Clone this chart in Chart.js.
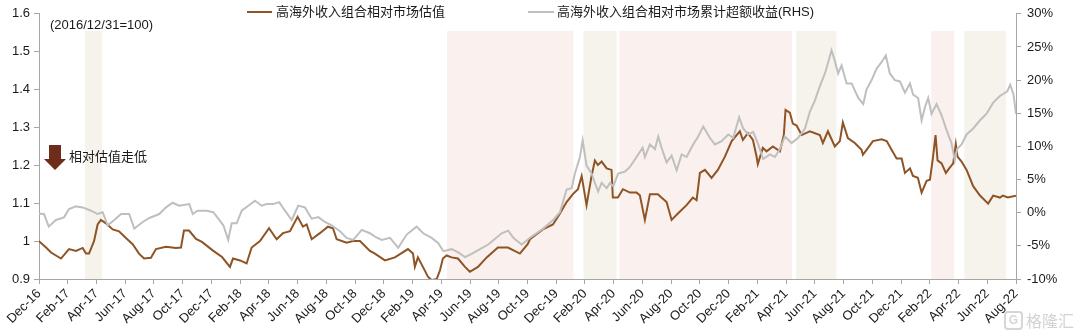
<!DOCTYPE html>
<html>
<head>
<meta charset="utf-8">
<script src="https://cdn.jsdelivr.net/npm/chart.js@4"></script>
<style>
  body { margin: 0; background: #fff; }
  #wrap { position: relative; width: 1080px; height: 333px; font-family: "Liberation Sans", Arial, "Noto Sans CJK SC", sans-serif; color: #1a1a1a; }
  #wrap canvas { position: absolute; left: 0; top: 0; }
  .lbl { position: absolute; font-size: 13px; line-height: 16px; white-space: nowrap; font-family: "Liberation Sans", Arial, "Noto Sans CJK SC", sans-serif; }
  .swatch { position: absolute; height: 2px; }
  .mark { position: absolute; color: #d2d2d2; font-size: 16px; line-height: 20px; white-space: nowrap; font-family: "Noto Sans CJK SC", sans-serif; }
  .logo { position: absolute; width: 15px; height: 15px; border: 2px solid #d6d6d6; border-radius: 4px; color: #d6d6d6; font: bold 12px/15px "Liberation Sans", Arial, sans-serif; text-align: center; }
</style>
</head>
<body>
<div id="wrap">
  <canvas id="valChart" width="1080" height="333"></canvas>

  <div class="swatch" style="left:247px; top:11px; width:25px; background:#8e5425;"></div>
  <div class="lbl" style="left:276px; top:4px;">高海外收入组合相对市场估值</div>
  <div class="swatch" style="left:528px; top:11px; width:26px; background:#bfbfbf;"></div>
  <div class="lbl" style="left:557px; top:4px;">高海外收入组合相对市场累计超额收益(RHS)</div>

  <div class="lbl" style="left:50px; top:17px;">(2016/12/31=100)</div>

  <svg style="position:absolute; left:44px; top:145px;" width="22" height="26">
    <polygon points="5,0 17,0 17,14 22,14 11,25 0,14 5,14" fill="#6e2c1b"/>
  </svg>
  <div class="lbl" style="left:69px; top:149px;">相对估值走低</div>

  <div class="logo" style="left:1004px; top:311px;">G</div>
  <div class="mark" style="left:1026px; top:310px;">格隆汇</div>
</div>

<script>
// months counted from 2016/12/31
const tickLabels = [
  'Dec-16', 'Feb-17', 'Apr-17', 'Jun-17', 'Aug-17', 'Oct-17', 'Dec-17', 'Feb-18', 'Apr-18',
  'Jun-18', 'Aug-18', 'Oct-18', 'Dec-18', 'Feb-19', 'Apr-19', 'Jun-19', 'Aug-19', 'Oct-19',
  'Dec-19', 'Feb-20', 'Apr-20', 'Jun-20', 'Aug-20', 'Oct-20', 'Dec-20', 'Feb-21', 'Apr-21',
  'Jun-21', 'Aug-21', 'Oct-21', 'Dec-21', 'Feb-22', 'Apr-22', 'Jun-22', 'Aug-22'
];

// relative valuation (left axis)
const valuationMonths = [
  0, 0.49, 0.84, 1.53, 2.09, 2.57, 3.04, 3.27, 3.48, 3.83, 4.08, 4.31, 4.66, 5.13, 5.57, 6.05,
  6.52, 6.96, 7.31, 7.79, 8.14, 8.84, 9.53, 9.88, 10.09, 10.44, 10.93, 11.34, 12.11, 12.74, 13.29,
  13.5, 13.99, 14.45, 14.8, 15.38, 16.01, 16.54, 16.98, 17.47, 18.0, 18.37, 18.63, 18.98, 19.55,
  20.11, 20.46, 20.72, 21.41, 21.85, 22.34, 23.03, 23.38, 24.08, 24.77, 25.68, 26.03, 26.16, 26.37,
  26.72, 27.07, 27.33, 27.68, 27.91, 28.11, 28.37, 28.72, 29.16, 29.65, 29.99, 30.55, 31.16, 31.94,
  32.64, 33.47, 34.01, 34.17, 35.07, 35.77, 36.26, 36.72, 37.16, 37.51, 37.77, 38.11, 38.46, 38.69,
  38.9, 39.16, 39.51, 39.85, 39.94, 40.29, 40.64, 41.13, 41.59, 41.82, 42.17, 42.52, 43.07, 43.68,
  44.03, 44.47, 45.07, 45.51, 45.77, 46.0, 46.35, 46.81, 47.25, 47.74, 48.21, 48.78, 48.99, 49.34,
  49.69, 49.94, 50.03, 50.38, 50.64, 51.08, 51.57, 51.84, 51.96, 52.26, 52.47, 52.73, 53.08, 53.65,
  54.35, 54.56, 54.91, 55.39, 55.74, 55.95, 56.3, 56.78, 57.25, 57.34, 57.6, 58.04, 58.65, 59.0,
  59.34, 59.69, 60.04, 60.27, 60.62, 60.83, 61.17, 61.43, 61.78, 62.01, 62.21, 62.4, 62.54, 62.82,
  63.12, 63.35, 63.63, 63.81, 63.93, 64.21, 64.56, 65.02, 65.48, 66.06, 66.41, 66.88, 67.08, 67.43, 68.0
];
const valuationLevels = [
  1.0, 0.983, 0.97, 0.954, 0.979, 0.974, 0.982, 0.967, 0.967, 1.0, 1.044, 1.056, 1.047, 1.031, 1.026, 1.008,
  0.992, 0.967, 0.954, 0.956, 0.979, 0.985, 0.982, 0.983, 1.028, 1.028, 1.006, 0.998, 0.975, 0.958, 0.932,
  0.954, 0.949, 0.941, 0.983, 1.0, 1.034, 1.005, 1.021, 1.026, 1.064, 1.038, 1.044, 1.005, 1.021,
  1.038, 1.034, 1.005, 0.996, 1.0, 1.0, 0.974, 0.967, 0.949, 0.957, 0.979, 0.967, 0.932, 0.957,
  0.932, 0.906, 0.897, 0.9, 0.923, 0.954, 0.962, 0.957, 0.954, 0.932, 0.919, 0.932, 0.957, 0.983,
  0.983, 0.967, 0.992, 1.005, 1.031, 1.044, 1.073, 1.103, 1.124, 1.137, 1.172, 1.095, 1.172, 1.213,
  1.201, 1.21, 1.192, 1.188, 1.115, 1.115, 1.137, 1.128, 1.128, 1.121, 1.056, 1.124, 1.124, 1.103,
  1.056, 1.073, 1.095, 1.115, 1.108, 1.18, 1.188, 1.167, 1.188, 1.223, 1.264, 1.29, 1.267, 1.285,
  1.267, 1.224, 1.203, 1.246, 1.237, 1.25, 1.237, 1.28, 1.346, 1.339, 1.31, 1.305, 1.28, 1.29,
  1.28, 1.259, 1.29, 1.25, 1.264, 1.313, 1.272, 1.259, 1.241, 1.228, 1.241, 1.264, 1.269, 1.264,
  1.241, 1.218, 1.218, 1.18, 1.192, 1.172, 1.167, 1.128, 1.159, 1.162, 1.218, 1.28, 1.213, 1.205,
  1.18, 1.192, 1.205, 1.256, 1.223, 1.21, 1.188, 1.145, 1.121, 1.099, 1.12, 1.115, 1.12, 1.115, 1.12
];

// cumulative excess return, % (right axis)
const excessMonths = [
  0, 0.35, 0.68, 1.18, 1.74, 2.09, 2.57, 3.04, 3.62, 4.08, 4.43, 4.78, 5.24, 5.71, 6.28, 6.63,
  7.22, 7.68, 8.37, 8.84, 9.3, 9.76, 10.46, 10.7, 11.04, 11.67, 12.13, 12.48, 12.83, 13.17, 13.41,
  13.76, 14.11, 14.57, 15.03, 15.5, 15.85, 16.3, 16.72, 17.12, 17.59, 18.04, 18.51, 18.98, 19.44,
  19.9, 20.37, 20.95, 21.41, 21.87, 22.46, 23.03, 23.38, 23.85, 24.43, 25.0, 25.59, 26.28, 26.74,
  27.33, 27.79, 28.14, 28.72, 29.18, 29.65, 30.11, 30.69, 31.27, 32.2, 32.66, 33.01, 33.59, 34.29,
  35.09, 35.79, 36.26, 36.72, 37.07, 37.3, 37.65, 37.84, 38.11, 38.46, 38.69, 38.92, 39.16, 39.51,
  39.74, 39.97, 40.31, 40.78, 41.13, 41.59, 42.01, 42.17, 42.52, 42.87, 43.1, 43.33, 43.68, 44.03,
  44.38, 44.73, 45.07, 45.53, 45.88, 46.23, 46.69, 47.04, 47.51, 47.97, 48.32, 48.73, 49.01, 49.36,
  49.71, 50.06, 50.4, 50.87, 51.22, 51.57, 51.91, 52.38, 52.84, 53.31, 53.65, 54.0, 54.35, 54.7,
  54.93, 55.16, 55.39, 55.62, 55.86, 56.21, 56.56, 57.02, 57.37, 57.6, 57.95, 58.29, 58.64, 58.94,
  59.22, 59.57, 59.92, 60.27, 60.62, 60.84, 61.19, 61.43, 61.66, 61.89, 62.12, 62.47, 62.82, 63.16,
  63.51, 63.74, 63.9, 64.21, 64.56, 65.02, 65.48, 65.94, 66.41, 66.88, 67.39, 67.6, 67.83, 68.0
];
const excessReturns = [
  -0.17, -0.2, -2.1, -1.1, -0.7, 0.55, 0.95, 0.8, 0.3, -0.2, 0.07, -1.9, -1.1, -0.2, -0.2, -2.4,
  -1.4, -0.8, -0.2, 0.8, 1.5, 1.05, 1.3, -0.2, 0.3, 0.3, 0.07, -0.9, -1.9, -4.1, -1.6,
  -1.6, 0.3, 1.05, 1.8, 1.05, 1.3, 1.3, 1.6, 0.3, -1.1, 1.05, 0.8, -0.9, -0.66,
  -1.4, -1.9, -2.8, -3.8, -4.1, -2.6, -3.1, -3.6, -4.1, -3.8, -5.3, -3.3, -2.1, -3.1,
  -3.8, -4.6, -5.8, -5.5, -6.0, -6.7, -6.2, -5.5, -4.8, -3.1, -2.7, -3.8, -4.8, -3.6,
  -2.4, -1.1, 0.07, 3.5, 3.7, 5.9, 8.4, 10.9, 7.1, 5.9, 4.5, 3.2, 4.5, 3.7,
  4.5, 4.0, 5.9, 6.2, 6.9, 8.4, 9.8, 8.4, 10.3, 9.6, 11.5, 9.8, 7.6, 8.6,
  6.4, 8.8, 8.4, 10.3, 11.5, 13.0, 11.3, 10.3, 10.8, 11.8, 11.3, 14.4, 12.7, 11.8,
  12.2, 10.3, 8.1, 8.8, 8.4, 9.6, 11.5, 10.5, 11.3, 12.7, 15.2, 16.9, 19.1, 21.0,
  22.7, 24.5, 22.9, 21.0, 22.2, 19.5, 19.5, 17.3, 16.4, 18.6, 20.0, 21.7, 22.7, 23.7,
  21.0, 20.0, 19.8, 18.1, 19.5, 17.8, 17.3, 13.9, 15.9, 17.3, 14.9, 16.4, 14.7, 12.5,
  10.5, 7.9, 9.6, 10.3, 11.8, 12.7, 13.9, 14.9, 16.6, 17.6, 18.3, 19.3, 17.8, 14.9
];

// shaded periods [start, end] in months
const beigePeriods = [[3.2, 4.38], [37.9, 40.2], [52.7, 55.5], [64.4, 67.3]];
const pinkPeriods = [[28.4, 37.2], [40.4, 52.4], [62.1, 63.7]];
const bandTop = 1.555;

const toPoints = (xs, ys) => xs.map((x, i) => ({ x: x, y: ys[i] }));

// draws the shaded periods behind the lines
const periodBands = {
  id: 'periodBands',
  beforeDatasetsDraw(chart) {
    const { ctx, scales: { x, y } } = chart;
    const top = y.getPixelForValue(bandTop);
    const bottom = y.getPixelForValue(0.9);
    const paint = (list, color) => {
      ctx.fillStyle = color;
      list.forEach(([a, b]) => {
        const x0 = x.getPixelForValue(a);
        const x1 = x.getPixelForValue(b);
        ctx.fillRect(x0, top, x1 - x0, bottom - top);
      });
    };
    ctx.save();
    paint(beigePeriods, '#f6f3ec');
    paint(pinkPeriods, '#faf0ee');
    ctx.restore();
  }
};

const axisFont = { family: '"Liberation Sans", Arial, sans-serif', size: 13 };
const axisGrey = '#a6a6a6';

new Chart(document.getElementById('valChart'), {
  type: 'line',
  data: {
    datasets: [
      {
        label: '高海外收入组合相对市场估值',
        data: toPoints(valuationMonths, valuationLevels),
        borderColor: '#8e5425',
        borderWidth: 2,
        pointRadius: 0,
        tension: 0,
        yAxisID: 'y',
        order: 1
      },
      {
        label: '高海外收入组合相对市场累计超额收益(RHS)',
        data: toPoints(excessMonths, excessReturns),
        borderColor: '#bfbfbf',
        borderWidth: 2,
        pointRadius: 0,
        tension: 0,
        yAxisID: 'y1',
        order: 0
      }
    ]
  },
  options: {
    responsive: false,
    animation: false,
    layout: { padding: { top: 5, left: 0, right: 0, bottom: 0 } },
    plugins: {
      legend: { display: false },
      tooltip: { enabled: false }
    },
    scales: {
      x: {
        type: 'linear',
        min: 0,
        max: 68,
        afterFit: (s) => { s.height = 54; },
        border: { display: true, color: axisGrey, width: 1 },
        grid: { drawOnChartArea: false, drawTicks: true, tickLength: 5, color: axisGrey },
        ticks: {
          stepSize: 2,
          autoSkip: false,
          maxRotation: 45,
          minRotation: 45,
          padding: 2,
          color: '#1a1a1a',
          font: axisFont,
          callback: (v) => tickLabels[Math.round(v / 2)]
        }
      },
      y: {
        position: 'left',
        min: 0.9,
        max: 1.6,
        afterFit: (s) => { s.width = 39; },
        border: { display: true, color: axisGrey, width: 1 },
        grid: { drawOnChartArea: false, drawTicks: true, tickLength: 5, color: axisGrey },
        ticks: {
          stepSize: 0.1,
          padding: 4,
          color: '#1a1a1a',
          font: axisFont,
          callback: (v) => String(Number(v.toFixed(1)))
        }
      },
      y1: {
        position: 'right',
        min: -10,
        max: 30,
        afterFit: (s) => { s.width = 64; },
        border: { display: true, color: axisGrey, width: 1 },
        grid: { drawOnChartArea: false, drawTicks: true, tickLength: 5, color: axisGrey },
        ticks: {
          stepSize: 5,
          padding: 6,
          color: '#1a1a1a',
          font: axisFont,
          callback: (v) => v + '%'
        }
      }
    }
  },
  plugins: [periodBands]
});
</script>
</body>
</html>
